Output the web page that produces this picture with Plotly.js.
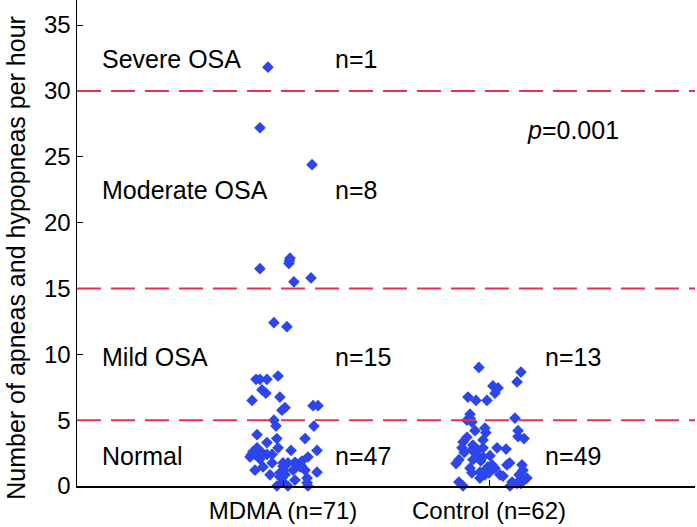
<!DOCTYPE html>
<html>
<head>
<meta charset="utf-8">
<script src="https://cdn.plot.ly/plotly-3.0.1.min.js"></script>
<style>html,body{margin:0;padding:0;background:#fff;}#chart{width:697px;height:527px;}</style>
</head>
<body>
<div id="chart"></div>
<script>
// Group categories (x tick labels)
const groupLabels = ["MDMA (n=71)", "Control (n=62)"];
const groupPositions = [1, 2];

// MDMA group: jittered x position and AHI value
const mdmaX = [0.927,
  0.888,1.141,0.888,1.034,1.029,1.053,1.136,1.031,
  0.956,1.019,0.869,0.888,0.922,0.976,0.898,0.917,0.985,0.850,0.995,1.010,1.146,1.170,0.956,
  0.966,1.150,0.874,0.922,0.970,1.107,0.874,0.976,1.165,1.039,0.854,0.840,0.888,0.922,0.947,0.864,1.121,1.058,1.092,1.073,1.000,1.024,0.947,0.903,0.864,0.985,1.010,1.049,1.107,1.165,0.937,1.000,0.970,1.024,1.058,1.121,1.117,1.083,
  1.063,1.087,1.000,0.985,1.117,0.845,0.878,0.900,1.005];
const mdmaY = [31.8,
  27.2,24.4,16.5,17.3,16.9,15.5,15.8,17.1,
  12.4,12.1,8.1,8.1,8.1,8.35,7.3,7.05,6.75,6.5,5.75,5.95,6.1,6.1,5.0,
  4.55,4.55,3.9,3.3,3.6,3.6,2.9,2.9,2.7,2.7,2.6,2.2,2.05,2.4,2.4,2.4,2.2,1.8,1.9,1.6,1.75,1.75,1.75,1.45,1.2,1.0,0.85,1.2,1.2,1.05,0.85,0.3,0.0,0.0,0.45,0.0,0.6,1.45,
  1.65,1.55,1.5,0.7,0.25,2.35,2.75,2.5,1.2];

// Control group
const ctrlX = [1.951,2.155,2.136,2.019,2.044,2.029,1.898,1.937,1.990,1.908,2.126,1.893,1.910,
  1.917,1.932,1.980,1.985,2.141,1.893,2.141,2.170,1.971,1.874,1.922,1.869,1.917,1.946,1.971,2.039,2.083,1.942,1.971,2.005,1.854,1.922,1.840,1.908,1.995,2.015,2.029,2.100,2.087,2.160,2.165,1.956,1.980,2.053,2.068,1.917,1.854,1.874,1.956,2.112,2.146,2.136,2.155,2.184,2.102,
  1.960,1.985,2.000,1.880];
const ctrlY = [9.0,8.65,7.9,7.6,7.45,7.05,6.75,6.5,6.5,5.45,5.15,5.0,5.1,
  4.85,4.2,4.4,4.05,4.2,3.7,3.75,3.6,3.5,3.35,3.1,2.9,2.75,2.75,2.9,2.9,2.8,2.35,2.2,2.3,2.0,2.0,1.7,1.35,1.45,1.6,1.35,1.75,1.6,1.6,1.2,1.05,0.85,0.85,0.75,1.0,0.3,0.0,0.6,0.3,0.85,0.2,0.2,0.6,0.0,
  1.9,1.25,1.0,2.55];

// Severity thresholds
const thresholds = [5, 15, 30];

// Band labels and counts
const bandLabels = ["Severe OSA", "Moderate OSA", "Mild OSA", "Normal"];
const bandLabelY = [32.4, 22.5, 9.8, 2.3];
const mdmaCounts = ["n=1", "n=8", "n=15", "n=47"];
const ctrlCounts = ["", "", "n=13", "n=49"];
const pText = "<i>p</i>=0.001";
const yTitle = "Number of apneas and hypopneas per hour";

const FONT = "Liberation Sans, Arial, sans-serif";
const markerColor = "rgb(45,70,235)";
const lineColor = "rgb(232,48,80)";

const traces = [
  {x: mdmaX, y: mdmaY, type: "scatter", mode: "markers", cliponaxis: false,
   marker: {symbol: "diamond", size: 9, color: markerColor}, hoverinfo: "y"},
  {x: ctrlX, y: ctrlY, type: "scatter", mode: "markers", cliponaxis: false,
   marker: {symbol: "diamond", size: 9, color: markerColor}, hoverinfo: "y"}
];

const shapes = thresholds.map(t => ({
  type: "line", xref: "paper", yref: "y", x0: 0, x1: 1, y0: t, y1: t,
  line: {color: lineColor, width: 2, dash: "24px,10px"}
}));

const annotations = [];
const annFont = {family: FONT, size: 25, color: "#000"};
bandLabels.forEach((lab, i) => {
  annotations.push({x: 0.112, y: bandLabelY[i], xref: "x", yref: "y", text: lab, showarrow: false,
    xanchor: "left", yanchor: "middle", font: annFont});
  annotations.push({x: 1.243, y: bandLabelY[i], xref: "x", yref: "y", text: mdmaCounts[i], showarrow: false,
    xanchor: "left", yanchor: "middle", font: annFont});
  if (ctrlCounts[i]) {
    annotations.push({x: 2.262, y: bandLabelY[i], xref: "x", yref: "y", text: ctrlCounts[i], showarrow: false,
      xanchor: "left", yanchor: "middle", font: annFont});
  }
});
annotations.push({x: 2.175, y: 27.0, xref: "x", yref: "y", text: pText, showarrow: false,
  xanchor: "left", yanchor: "middle", font: annFont});
// Y axis title (rotated text, sitting slightly below centre as in the reference)
annotations.push({x: -0.1, y: 0.47, xref: "paper", yref: "paper", text: yTitle, showarrow: false,
  textangle: -90, xanchor: "center", yanchor: "middle", font: {family: FONT, size: 25, color: "#000"}});

const layout = {
  width: 697, height: 527,
  margin: {l: 77, r: 2, t: 0, b: 41, pad: 0},
  paper_bgcolor: "#fff", plot_bgcolor: "#fff",
  showlegend: false,
  font: {family: FONT, size: 24, color: "#000"},
  xaxis: {
    range: [0, 3], tickvals: groupPositions, ticktext: groupLabels,
    ticks: "inside", ticklen: 6, tickcolor: "#000", tickwidth: 1,
    ticklabelstandoff: 3,
    showline: true, linecolor: "#000", linewidth: 1.5,
    showgrid: false, zeroline: false, fixedrange: true,
    tickfont: {family: FONT, size: 24, color: "#000"}
  },
  yaxis: {
    range: [0, 36.9], tickvals: [0,5,10,15,20,25,30,35],
    ticks: "inside", ticklen: 6, tickcolor: "#000", tickwidth: 1,
    showline: true, linecolor: "#000", linewidth: 1.5,
    showgrid: false, zeroline: false, fixedrange: true,
    tickfont: {family: FONT, size: 24, color: "#000"}
  },
  shapes: shapes,
  annotations: annotations
};

Plotly.newPlot("chart", traces, layout, {displayModeBar: false, staticPlot: true});
</script>
</body>
</html>
